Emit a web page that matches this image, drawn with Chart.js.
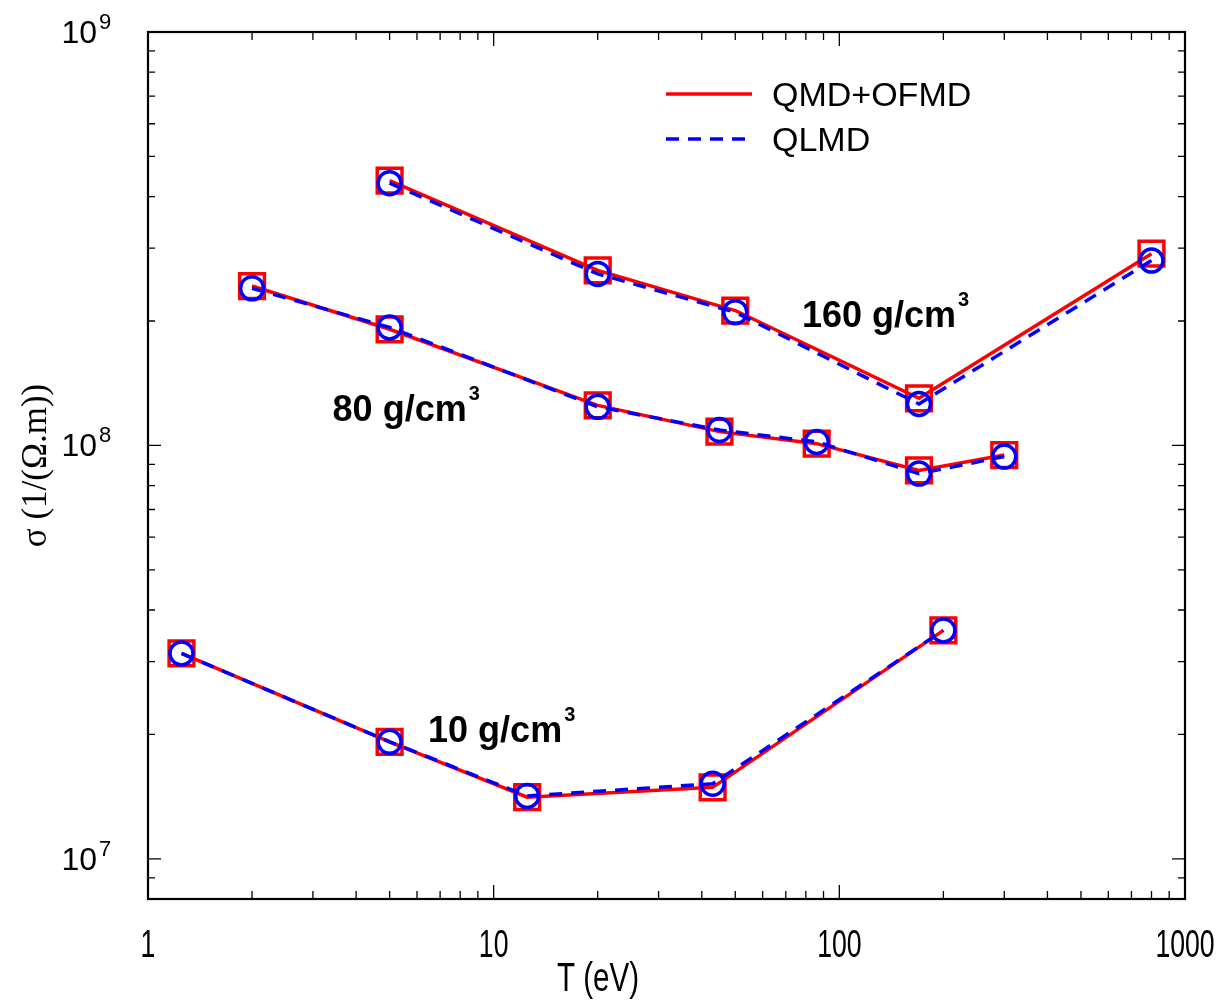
<!DOCTYPE html>
<html lang="en">
<head>
<meta charset="UTF-8">
<title>Electrical conductivity vs temperature</title>
<script src="https://cdn.jsdelivr.net/npm/chart.js@4.4.1/dist/chart.umd.min.js"></script>
<style>
    * { margin: 0; padding: 0; box-sizing: border-box; }
    body { background: #fff; }
    .chart-container { position: relative; width: 1232px; height: 1000px; }
</style>
</head>
<body>
<div class="chart-container"><canvas id="sigma-chart"></canvas></div>
<script>
// T in eV, sigma in 1/(Ohm.m)
const T160 = [5, 20, 50, 170, 800];
const sigma160Qmd = [4.37e8, 2.65e8, 2.12e8, 1.30e8, 2.91e8];
const sigma160Qlmd = [4.31e8, 2.60e8, 2.10e8, 1.26e8, 2.80e8];

const T80 = [2, 5, 20, 45, 86, 170, 300];
const sigma80Qmd = [2.43e8, 1.91e8, 1.25e8, 1.08e8, 1.01e8, 8.70e7, 9.48e7];
const sigma80Qlmd = [2.40e8, 1.93e8, 1.24e8, 1.09e8, 1.02e8, 8.55e7, 9.40e7];

const T10 = [1.25, 5, 12.5, 43, 200];
const sigma10Qmd = [3.14e7, 1.92e7, 1.41e7, 1.49e7, 3.57e7];
const sigma10Qlmd = [3.14e7, 1.92e7, 1.42e7, 1.52e7, 3.57e7];

const xTicks = [1, 10, 100, 1000];
const yTicks = [1e7, 1e8, 1e9];
const seriesNames = ['QMD+OFMD', 'QLMD'];
const xTitle = 'T (eV)';
const yTitle = '\u03c3 (1/(\u03a9.m))';

// density labels, anchored at (T, sigma) of their left baseline
const densityLabels = [
    { text: '160 g/cm', T: 78, sigma: 1.93e8 },
    { text: '80 g/cm', T: 3.42, sigma: 1.145e8 },
    { text: '10 g/cm', T: 6.46, sigma: 1.914e7 }
];

const RED = '#ff0000';
const BLUE = '#0000ff';
const SANS = '"Liberation Sans", Arial, Helvetica, sans-serif';

function toPoints(xs, ys) {
    return xs.map((x, i) => ({ x: x, y: ys[i] }));
}

function qmdSet(xs, ys) {
    return {
        label: seriesNames[0],
        data: toPoints(xs, ys),
        showLine: true,
        borderColor: RED,
        borderWidth: 3.5,
        pointStyle: 'rect',
        pointRadius: 17.5,
        pointBorderWidth: 3.5,
        pointBorderColor: RED,
        pointBackgroundColor: 'rgba(0,0,0,0)',
        order: 2
    };
}

function qlmdSet(xs, ys) {
    return {
        label: seriesNames[1],
        data: toPoints(xs, ys),
        showLine: true,
        borderColor: BLUE,
        borderWidth: 3.5,
        borderDash: [13, 9],
        pointStyle: 'circle',
        pointRadius: 11.5,
        pointBorderWidth: 3.5,
        pointBorderColor: BLUE,
        pointBackgroundColor: 'rgba(0,0,0,0)',
        order: 1
    };
}

function minorValues(min, max) {
    const vals = [];
    for (let d = Math.pow(10, Math.floor(Math.log10(min))); d < max * 10; d *= 10) {
        for (let k = 1; k <= 9; k++) {
            const v = d * k;
            if (v >= min * 0.999 && v <= max * 1.001) vals.push({ v: v, major: k === 1 });
        }
    }
    return vals;
}

// horizontally squeezed text, the original uses a condensed face
function condensedText(ctx, text, x, y, sx, align) {
    ctx.save();
    ctx.translate(x, y);
    ctx.scale(sx, 1);
    ctx.textAlign = align;
    ctx.fillText(text, 0, 0);
    ctx.restore();
}

// frame + inward ticks on all four sides
const frameTicks = {
    id: 'frameTicks',
    beforeDatasetsDraw(chart) {
        const { ctx, chartArea: a, scales } = chart;
        ctx.save();
        ctx.strokeStyle = '#000';
        ctx.lineWidth = 1.3;
        ctx.beginPath();
        minorValues(scales.x.min, scales.x.max).forEach(t => {
            const px = scales.x.getPixelForValue(t.v);
            const len = t.major ? 14 : 8;
            ctx.moveTo(px, a.bottom); ctx.lineTo(px, a.bottom - len);
            ctx.moveTo(px, a.top); ctx.lineTo(px, a.top + len);
        });
        minorValues(scales.y.min, scales.y.max).forEach(t => {
            const py = scales.y.getPixelForValue(t.v);
            const len = t.major ? 13 : 7;
            ctx.moveTo(a.left, py); ctx.lineTo(a.left + len, py);
            ctx.moveTo(a.right, py); ctx.lineTo(a.right - len, py);
        });
        ctx.stroke();
        ctx.lineWidth = 2.2;
        ctx.strokeRect(a.left, a.top, a.right - a.left, a.bottom - a.top);
        ctx.restore();
    }
};

// tick labels, x title, legend and density labels
const overlay = {
    id: 'overlay',
    afterDraw(chart) {
        const { ctx, chartArea: a, scales } = chart;
        ctx.save();
        ctx.fillStyle = '#000';
        ctx.textBaseline = 'alphabetic';

        // x tick labels
        ctx.font = '38px ' + SANS;
        xTicks.forEach(v => {
            condensedText(ctx, String(v), scales.x.getPixelForValue(v), a.bottom + 58, 0.7, 'center');
        });
        // x title (sits left of the axis centre in the original)
        ctx.font = '40px ' + SANS;
        condensedText(ctx, xTitle, a.left + 450, a.bottom + 92, 0.74, 'center');

        // y tick labels 10^n
        yTicks.forEach(v => {
            const py = scales.y.getPixelForValue(v);
            ctx.font = '32px ' + SANS;
            ctx.textAlign = 'right';
            ctx.fillText('10', a.left - 51, py + 11);
            ctx.font = '22px ' + SANS;
            ctx.textAlign = 'left';
            ctx.fillText(String(Math.round(Math.log10(v))), a.left - 49, py - 3);
        });

        // legend
        const lx0 = a.right - 519, lx1 = a.right - 433;
        const rows = [{ y: a.top + 62, color: RED, dash: [] }, { y: a.top + 107, color: BLUE, dash: [13, 9] }];
        rows.forEach((r, i) => {
            ctx.strokeStyle = r.color;
            ctx.lineWidth = 3.5;
            ctx.setLineDash(r.dash);
            ctx.beginPath();
            ctx.moveTo(lx0, r.y); ctx.lineTo(lx1, r.y);
            ctx.stroke();
            ctx.setLineDash([]);
            ctx.font = '34px ' + SANS;
            ctx.textAlign = 'left';
            ctx.fillText(seriesNames[i], a.right - 413, r.y + 12);
        });

        // density annotations with superscript 3
        densityLabels.forEach(lab => {
            const x = scales.x.getPixelForValue(lab.T);
            const y = scales.y.getPixelForValue(lab.sigma);
            ctx.textAlign = 'left';
            ctx.font = 'bold 36px ' + SANS;
            ctx.fillText(lab.text, x, y);
            const w = ctx.measureText(lab.text).width;
            ctx.font = 'bold 20px ' + SANS;
            ctx.fillText('3', x + w + 2, y - 21);
        });
        ctx.restore();
    }
};

const datasets = [
    qmdSet(T160, sigma160Qmd), qlmdSet(T160, sigma160Qlmd),
    qmdSet(T80, sigma80Qmd), qlmdSet(T80, sigma80Qlmd),
    qmdSet(T10, sigma10Qmd), qlmdSet(T10, sigma10Qlmd)
];

new Chart(document.getElementById('sigma-chart'), {
    type: 'scatter',
    data: { datasets: datasets },
    options: {
        responsive: true,
        maintainAspectRatio: false,
        animation: false,
        events: [],
        layout: { padding: { top: 32, right: 47, left: 0, bottom: 0 } },
        plugins: {
            legend: { display: false },
            tooltip: { enabled: false }
        },
        scales: {
            x: {
                type: 'logarithmic',
                min: 1,
                max: 1000,
                afterBuildTicks: scale => { scale.ticks = xTicks.map(v => ({ value: v })); },
                afterFit: scale => { scale.height = 101; },
                grid: { display: false, drawTicks: false },
                border: { display: false },
                ticks: { display: false }
            },
            y: {
                type: 'logarithmic',
                min: 8e6,
                max: 1e9,
                afterBuildTicks: scale => { scale.ticks = yTicks.map(v => ({ value: v })); },
                afterFit: scale => { scale.width = 148; },
                grid: { display: false, drawTicks: false },
                border: { display: false },
                ticks: { display: false },
                title: {
                    display: true,
                    text: yTitle,
                    color: '#000',
                    padding: { top: 16, bottom: 0 },
                    font: { family: '"Liberation Serif", "Times New Roman", serif', size: 35 }
                }
            }
        }
    },
    plugins: [frameTicks, overlay]
});
</script>
</body>
</html>
